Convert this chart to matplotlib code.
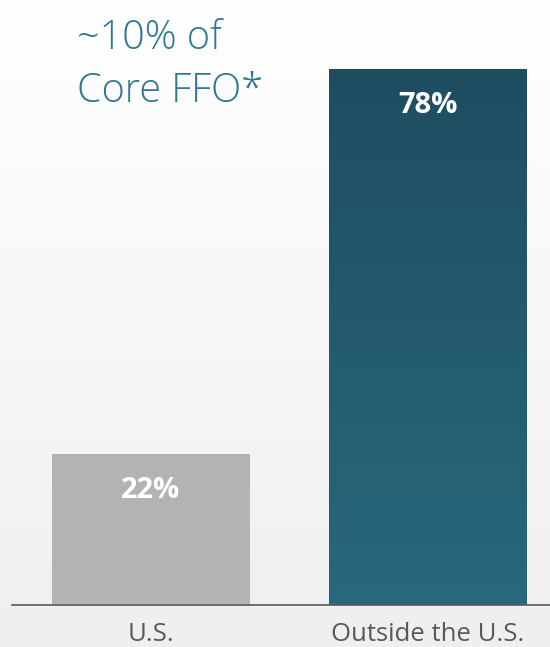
import numpy as np
import matplotlib
matplotlib.use("Agg")
import matplotlib.pyplot as plt
from matplotlib.colors import LinearSegmentedColormap

categories = ["U.S.", "Outside the U.S."]
shares = [22, 78]
bar_labels = ["22%", "78%"]
title_text = "~10% of\nCore FFO*"

plt.rcParams['font.family'] = ['Open Sans', 'DejaVu Sans']

fig = plt.figure(figsize=(5.5, 6.47), dpi=100)

# background gradient (white at top to light grey at bottom)
bg = fig.add_axes([0, 0, 1, 1], zorder=-1)
bg.imshow(np.linspace(0, 1, 256).reshape(-1, 1), aspect='auto', extent=[0, 1, 0, 1],
          cmap=LinearSegmentedColormap.from_list("bg", ["#ffffff", "#efefef"]))
bg.axis('off')

ax = fig.add_axes([12 / 550, 42 / 647, 1 - 12 / 550, 605 / 647])
ax.patch.set_alpha(0)

x = np.arange(len(categories))
bars = ax.bar(x, shares, width=0.716, color=["#b3b3b3", "none"], zorder=2)

# gradient fill for the second bar
teal = LinearSegmentedColormap.from_list("teal", ["#29687d", "#1e4d60"])
b = bars[1]
x0, y0 = b.get_x(), b.get_y()
img = ax.imshow(np.linspace(0, 1, 256).reshape(-1, 1), aspect='auto', cmap=teal,
                origin='lower', extent=[x0, x0 + b.get_width(), y0, y0 + b.get_height()],
                zorder=2)
img.set_clip_path(b)

ax.set_xlim(-0.503, 1.443)
ax.set_ylim(0, 88)

for xi, v, lab in zip(x, shares, bar_labels):
    ax.text(xi, v - 5.3, lab, ha='center', va='center', color='white',
            fontsize=21, fontweight='bold', zorder=3)

for s in ['top', 'right', 'left']:
    ax.spines[s].set_visible(False)
ax.spines['bottom'].set_color('#595959')
ax.spines['bottom'].set_linewidth(1.2)
ax.set_yticks([])
ax.set_xticks(x)
ax.set_xticklabels(categories, fontsize=18.5, color='#595959')
ax.tick_params(axis='x', length=0, pad=12)

fig.text(77 / 550, 1 - 18 / 647, title_text, ha='left', va='top', color='#2e7890',
         fontsize=28.5, fontweight='light', linespacing=1.4)

fig.savefig("out.png", dpi=100)
